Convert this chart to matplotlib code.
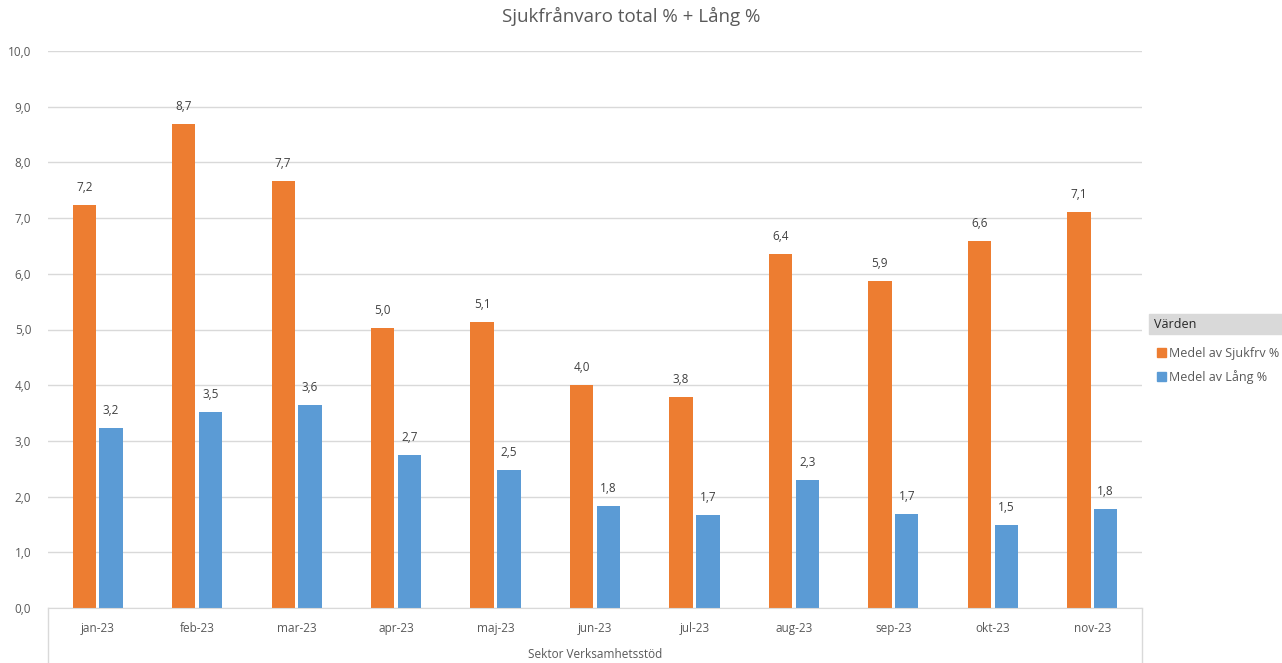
import numpy as np
import matplotlib
matplotlib.use("Agg")
import matplotlib.pyplot as plt
from matplotlib.patches import Patch

# data
months = ["jan-23", "feb-23", "mar-23", "apr-23", "maj-23", "jun-23",
          "jul-23", "aug-23", "sep-23", "okt-23", "nov-23"]
sjukfrv = [7.24, 8.69, 7.67, 5.02, 5.13, 4.01, 3.79, 6.36, 5.87, 6.58, 7.11]
lang = [3.23, 3.52, 3.64, 2.74, 2.48, 1.83, 1.67, 2.29, 1.69, 1.49, 1.78]
yticks = np.arange(0, 10.5, 1.0)

orange = "#ED7D31"
blue = "#5B9BD5"
txt = "#595959"
grid = "#D9D9D9"

plt.rcParams["font.family"] = ["Open Sans", "DejaVu Sans"]

fig = plt.figure(figsize=(12.82, 6.63), dpi=100)
ax = fig.add_axes([48/1282, 55/663, 1094/1282, 557/663])

x = np.arange(len(months))
w = 0.235
b1 = ax.bar(x - 0.135, sjukfrv, w, color=orange, label="Medel av Sjukfrv %")
b2 = ax.bar(x + 0.135, lang, w, color=blue, label="Medel av Lång %")

for bars, vals in [(b1, sjukfrv), (b2, lang)]:
    for r, v in zip(bars, vals):
        ax.annotate(("%.1f" % v).replace(".", ","),
                    (r.get_x() + r.get_width()/2, v), xytext=(0, 8),
                    textcoords="offset points", ha="center", va="bottom",
                    fontsize=8.5, color="#404040")

ax.set_xlim(-0.5, len(months) - 0.5)
ax.set_ylim(0, 10)
ax.set_yticks(yticks)
ax.set_yticklabels([("%.1f" % t).replace(".", ",") for t in yticks])
ax.set_xticks(x)
ax.set_xticklabels(months)
ax.tick_params(axis="both", length=0, colors=txt, labelsize=8.5)
ax.tick_params(axis="x", pad=10)
ax.tick_params(axis="y", pad=12)
ax.yaxis.grid(True, color=grid, linewidth=1)
ax.set_axisbelow(True)
for s in ["top", "right", "left"]:
    ax.spines[s].set_visible(False)
ax.spines["bottom"].set_color(grid)

# multi-level category axis borders
ax.plot([0, 0], [0, -55/557], transform=ax.transAxes, color=grid, lw=1, clip_on=False)
ax.plot([1, 1], [0, -55/557], transform=ax.transAxes, color=grid, lw=1, clip_on=False)
fig.text((48 + 1094/2)/1282, 1 - 655/663, "Sektor Verksamhetsstöd",
         ha="center", va="center", fontsize=8.5, color=txt)

fig.text(631/1282, 1 - 16/663, "Sjukfrånvaro total % + Lång %",
         ha="center", va="center", fontsize=13.5, color=txt)

# legend (pivot style)
fig.patches.append(plt.Rectangle((1149/1282, 1 - 334/663), 133/1282, 20/663,
                                 transform=fig.transFigure, color="#D9D9D9",
                                 zorder=0))
fig.text(1154/1282, 1 - 324/663, "Värden", ha="left", va="center",
         fontsize=9, color="#262626")
leg = fig.legend(handles=[Patch(color=orange, label="Medel av Sjukfrv %"),
                          Patch(color=blue, label="Medel av Lång %")],
                 loc="upper left", bbox_to_anchor=(1148/1282, 1 - 338/663),
                 frameon=False, fontsize=9, handlelength=0.7, handleheight=0.7,
                 handletextpad=0.3, labelspacing=0.8, borderpad=0.2,
                 labelcolor=txt)

fig.savefig("out.png", dpi=100)
